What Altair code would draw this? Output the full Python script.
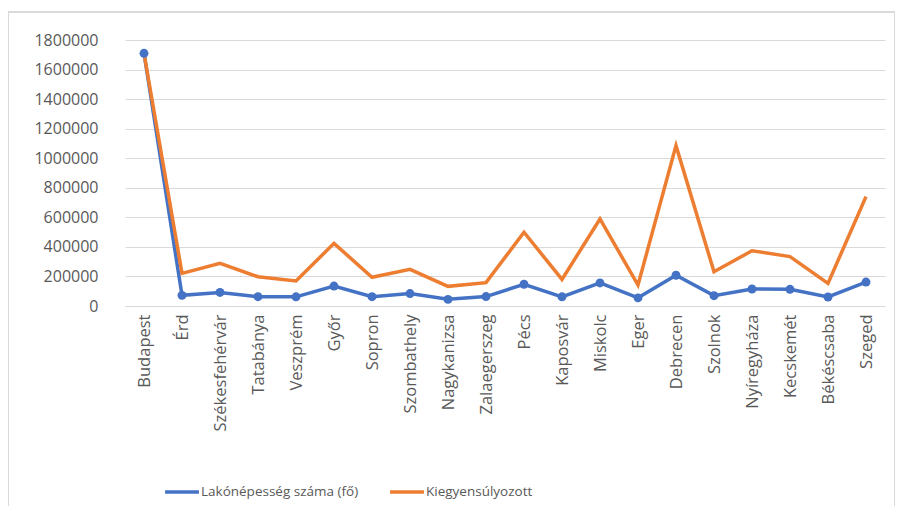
import altair as alt
import pandas as pd

cities = ["Budapest", "Érd", "Székesfehérvár", "Tatabánya", "Veszprém", "Győr", "Sopron",
          "Szombathely", "Nagykanizsa", "Zalaegerszeg", "Pécs", "Kaposvár", "Miskolc", "Eger",
          "Debrecen", "Szolnok", "Nyíregyháza", "Kecskemét", "Békéscsaba", "Szeged"]
lakonepesseg = [1710000, 72000, 92000, 63000, 62000, 135000, 63000, 84000, 45000, 64000,
                147000, 62000, 156000, 55000, 208000, 70000, 115000, 113000, 61000, 162000]
kiegyensulyozott = [1710000, 221000, 289000, 198000, 169000, 424000, 194000, 248000, 133000, 158000,
                    499000, 180000, 589000, 142000, 1085000, 232000, 374000, 334000, 153000, 740000]
series_names = ["Lakónépesség száma (fő)", "Kiegyensúlyozott"]
y_ticks = [0, 200000, 400000, 600000, 800000, 1000000, 1200000, 1400000, 1600000, 1800000]

rows = []
for name, vals in zip(series_names, [lakonepesseg, kiegyensulyozott]):
    for c, v in zip(cities, vals):
        rows.append({"város": c, "sorozat": name, "érték": v})
df = pd.DataFrame(rows)

FONT = "Open Sans"
GREY = "#595959"
BLUE = "#4472C4"
ORANGE = "#ED7D31"

x_enc = alt.X("város:N", sort=cities, title=None,
              scale=alt.Scale(type="point", padding=0.5),
              axis=alt.Axis(labelAngle=-90, labelFontSize=16.5, labelColor=GREY, labelFont=FONT,
                            ticks=False, domain=True, domainColor="#d9d9d9", domainWidth=1,
                            labelPadding=8, grid=False))
y_enc = alt.Y("érték:Q", title=None,
              scale=alt.Scale(domain=[0, 1800000], nice=False),
              axis=alt.Axis(values=y_ticks, format="d", labelFontSize=16, labelColor=GREY,
                            labelFont=FONT, ticks=False, domain=False, gridColor="#d9d9d9",
                            gridWidth=1, labelPadding=27, labelOverlap=False))
color_enc = alt.Color("sorozat:N", title=None,
                      scale=alt.Scale(domain=series_names, range=[BLUE, ORANGE]),
                      legend=alt.Legend(orient="none", legendX=38, legendY=433, direction="horizontal",
                                        symbolType="stroke", symbolStrokeWidth=3.5, symbolSize=1150,
                                        labelFontSize=13.5, labelFont=FONT, labelColor=GREY,
                                        labelLimit=0, columnPadding=24, labelOffset=0))

base = alt.Chart(df).encode(x=x_enc, y=y_enc, color=color_enc)

blue_line = base.transform_filter(alt.datum.sorozat == series_names[0]).mark_line(strokeWidth=3.5)
orange_line = base.transform_filter(alt.datum.sorozat == series_names[1]).mark_line(strokeWidth=3.5)
blue_pts = base.transform_filter(alt.datum.sorozat == series_names[0]).mark_circle(size=80, opacity=1)

frame = alt.Chart(df).mark_rect(fill=None, stroke="#d9d9d9", strokeWidth=1).encode(
    x=alt.value(-117), x2=alt.value(770), y=alt.value(-28), y2=alt.value(480))

chart = alt.layer(frame, blue_line, orange_line, blue_pts).properties(
    width=760, height=266,
    autosize=alt.AutoSizeParams(type="none"),
    padding={"left": 117, "top": 32, "right": 10, "bottom": 200},
).configure_view(stroke=None)

chart.save("out.html", embed_options={"renderer": "svg", "actions": False})
